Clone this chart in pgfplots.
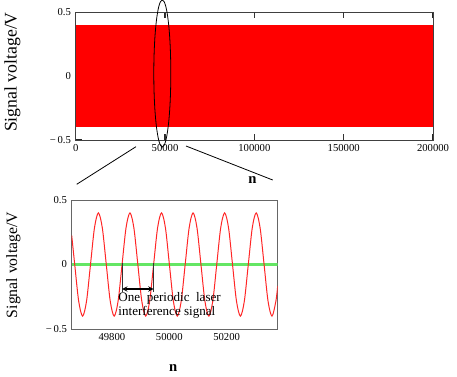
\documentclass[border=0pt]{standalone}
\usepackage{pgfplots}
\pgfplotsset{compat=1.18}
\usepackage{fontspec}
\setmainfont{Liberation Serif}
\definecolor{sigred}{RGB}{255,0,0}
\definecolor{zgreen}{RGB}{100,230,100}
\begin{document}
\begin{tikzpicture}
\useasboundingbox (0pt,0pt) rectangle (342.75pt,282pt);
% ---------------- top: full record ----------------
\begin{axis}[
  at={(56.78pt,177pt)}, anchor=south west,
  scale only axis, width=267.98pt, height=95.78pt,
  xmin=0, xmax=200000, ymin=-0.5, ymax=0.5,
  scaled ticks=false,
  xtick={0,50000,100000,150000,200000},
  xticklabels={0,50000,100000,150000,200000},
  ytick={-0.5,0,0.5},
  yticklabels={−\,0.5,0,0.5},
  tick align=inside,
  xtick pos=both,
  ytick pos=left,
  tick style={draw=black!85, line width=0.9pt},
  major tick length=4.5pt,
  tick label style={font=\fontsize{8}{9}\selectfont},
  axis line style={draw=black!75, line width=0.7pt},
  ylabel={Signal voltage/V},
  ylabel style={at={(axis description cs:-0.177,0.532)}, anchor=center, font=\fontsize{13.3}{15}\selectfont},
  xlabel={n},
  xlabel style={at={(axis description cs:0.495,-0.313)}, anchor=center, font=\fontsize{11}{13}\selectfont\bfseries},
  clip=true,
]
\addplot[draw=none, fill=sigred] coordinates {(0,-0.40) (200000,-0.40) (200000,0.40) (0,0.40)} -- cycle;
\pgfplotsinvokeforeach{50000,100000,150000}{
  \draw[black!80, line width=0.8pt] (axis cs:#1,-0.5) -- ++(0pt,4.5pt);
  \draw[black!80, line width=0.8pt] (axis cs:#1,0.5) -- ++(0pt,-4.5pt);
}
\end{axis}
% ---------------- bottom: zoomed segment ----------------
\begin{axis}[
  at={(53.78pt,35.25pt)}, anchor=south west,
  scale only axis, width=154.5pt, height=96.75pt,
  xmin=49660, xmax=50378, ymin=-0.5, ymax=0.5,
  scaled ticks=false,
  xtick={49800,50000,50200},
  xticklabels={49800,50000,50200},
  ytick={-0.5,0,0.5},
  yticklabels={−\,0.5,0,0.5},
  major tick length=0pt,
  tick label style={font=\fontsize{8}{9}\selectfont},
  axis line style={draw=black!60, line width=0.7pt},
  ylabel={Signal voltage/V},
  ylabel style={at={(axis description cs:-0.2835,0.496)}, anchor=center, font=\fontsize{11.8}{14}\selectfont},
  xlabel={n},
  xlabel style={at={(axis description cs:0.493,-0.30)}, anchor=center, font=\fontsize{11}{13}\selectfont\bfseries},
  clip=true,
]
\addplot[zgreen, line width=1.6pt] coordinates {(49660,0) (50378,0)};
\addplot[sigred!85, line width=0.75pt, smooth] coordinates {
(49660,0.225) (49670.5,0) (49684.25,-0.283) (49698,-0.4) (49711.75,-0.283)
(49725.5,0) (49739.25,0.283) (49753,0.4) (49766.75,0.283) (49780.5,0)
(49794.25,-0.283) (49808,-0.4) (49821.75,-0.283) (49835.5,0) (49849.25,0.283)
(49863,0.4) (49876.75,0.283) (49890.5,0) (49904.25,-0.283) (49918,-0.4)
(49931.75,-0.283) (49945.5,0) (49959.25,0.283) (49973,0.4) (49986.75,0.283)
(50000.5,0) (50014.25,-0.283) (50028,-0.4) (50041.75,-0.283) (50055.5,0)
(50069.25,0.283) (50083,0.4) (50096.75,0.283) (50110.5,0) (50124.25,-0.283)
(50138,-0.4) (50151.75,-0.283) (50165.5,0) (50179.25,0.283) (50193,0.4)
(50206.75,0.283) (50220.5,0) (50234.25,-0.283) (50248,-0.4) (50261.75,-0.283)
(50275.5,0) (50289.25,0.283) (50303,0.4) (50316.75,0.283) (50330.5,0)
(50344.25,-0.283) (50358,-0.4) (50371.75,-0.283) (50378,-0.166)
};
\draw[black!80, line width=0.8pt] (axis cs:49835.5,0.01) -- (axis cs:49835.5,-0.21);
\draw[black!80, line width=0.8pt] (axis cs:49945.5,0.01) -- (axis cs:49945.5,-0.21);
\draw[black, line width=0.8pt, <->, >=stealth] (axis cs:49835.5,-0.19) -- (axis cs:49945.5,-0.19);
\node[anchor=north west, inner sep=0pt, align=left, font=\fontsize{9.8}{10.6}\selectfont]
  at (axis cs:49822,-0.215) {One\ \ periodic\ \ laser\\interference signal};
\end{axis}
% ---------------- zoom indicators ----------------
\draw[black, line width=0.6pt] (121.73pt,226.88pt) ellipse [x radius=6.375pt, y radius=55.125pt];
\draw[black, line width=0.6pt] (102pt,171.98pt) -- (57.53pt,143.78pt);
\draw[black, line width=0.6pt] (139.5pt,172.5pt) -- (204.53pt,147pt);
\end{tikzpicture}
\end{document}
